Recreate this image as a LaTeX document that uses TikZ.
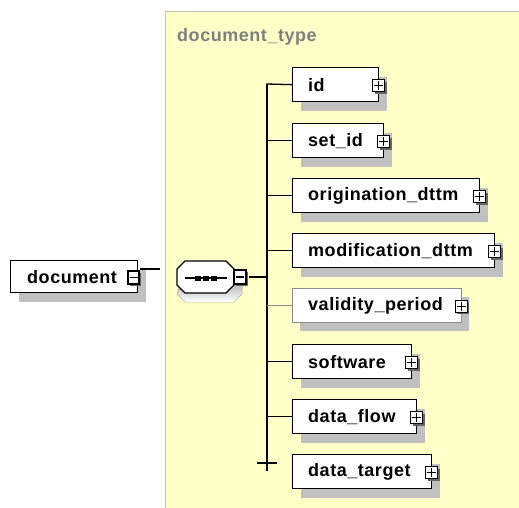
\documentclass[tikz,border=0pt]{standalone}
\usepackage{fontspec}
\setmainfont{Liberation Sans}
\usetikzlibrary{shadows}
\definecolor{panel}{HTML}{FFFFC8}
\definecolor{panelborder}{HTML}{C4C4B0}
\definecolor{shade}{HTML}{C0C0C0}
\definecolor{titlegray}{HTML}{808080}
\begin{document}
\begin{tikzpicture}[x=1pt,y=-1pt,
  box/.style={draw, line width=1.3pt, fill=white, minimum height=34pt, inner sep=0pt,
    anchor=north west, general shadow={fill=shade, shadow xshift=8pt, shadow yshift=-9pt}},
  optbox/.style={box, draw=black!45, line width=0.7pt},
  lbl/.style={anchor=west, inner sep=0pt,
    font=\fontsize{18}{21}\selectfont\bfseries\addfontfeature{LetterSpace=3}},
  icon/.style={draw, line width=1.3pt, fill=white, minimum width=12pt, minimum height=12pt,
    inner sep=0pt, general shadow={fill=black!60, shadow xshift=2pt, shadow yshift=-2pt}},
  sign/.style={line width=1.2pt},
  conn/.style={line width=1.3pt},
  optconn/.style={line width=0.7pt, draw=black!45}
]
\useasboundingbox (0,0) rectangle (519,508);
\clip (0,0) rectangle (519,508);
% panel
\fill[panel] (165,12) rectangle (530,520);
\draw[panelborder, line width=1pt] (530,12) -- (165,12) -- (165,520);
\node[anchor=west, inner sep=0pt, text=titlegray,
  font=\fontsize{18}{21}\selectfont\bfseries\addfontfeature{LetterSpace=3}] (title) at (177,37) {document\_type};

% document element
\node[box, minimum width=127pt, minimum height=32pt] (doc) at (10,260) {};
\node[lbl] (doct) at ([xshift=17pt]doc.west) {document};
\coordinate (docend) at (160,269);
\node[icon, minimum width=11pt, minimum height=13pt] (doci) at (133.5,277.5) {};
\draw[sign] ([xshift=-4pt]doci.center) -- ([xshift=4pt]doci.center);
\draw[conn] (doci.east |- docend) -- (docend);

% sequence compositor
\coordinate (bartop) at (267,84);
\coordinate (barbot) at (267,471);
\coordinate (tick) at (267,463);
\fill[shade] (185,270) -- (234,270) -- (242,278) -- (242,294) -- (234,302) -- (185,302) -- (177,294) -- cycle;
\draw[line width=1.3pt, fill=white] (185,261) -- (226,261) -- (234,269) -- (234,285) -- (226,293)
  -- (185,293) -- (177,285) -- (177,269) -- cycle;
\node[inner sep=0pt, minimum width=57pt, minimum height=32pt] (seq) at (205.5,277) {};
\draw[line width=1.1pt] ([xshift=-21pt,yshift=-1pt]seq.center) -- ([xshift=21pt,yshift=-1pt]seq.center);
\foreach \dx in {-8,0,8}
  \fill ([xshift=\dx pt, yshift=-1pt]seq.center) +(-3,-2.5) rectangle +(3,2.5);
\node[icon, minimum width=12pt, minimum height=14pt] (seqi) at (240,277) {};
\draw[sign] ([xshift=-4pt]seqi.center) -- ([xshift=4pt]seqi.center);
\draw[conn] (seqi.east) ++(2,0) -- (seqi.east -| bartop);

% bar
\draw[conn] (bartop) -- (barbot);
\draw[conn] ([xshift=-10pt]tick) -- ([xshift=10pt]tick);

% children
\foreach \n/\t/\r/\l in {id/67/378/id, setid/123/383/set\_id, orig/178/479/origination\_dttm,
   modif/233/494/modification\_dttm, soft/344/411/software, flow/399/416/data\_flow,
   target/454/431/data\_target}{
  \pgfmathsetmacro{\w}{\r-292}
  \node[box, minimum width=\w pt] (\n) at (292,\t) {};
  \node[lbl] (\n t) at ([xshift=16pt]\n.west) {\l};
  \node[icon] (\n i) at ([xshift=-0.5pt,yshift=-1pt]\n.east) {};
  \draw[sign] ([xshift=-4.5pt]\n i.center) -- ([xshift=4.5pt]\n i.center)
    ([yshift=-4.5pt]\n i.center) -- ([yshift=4.5pt]\n i.center);
}
\node[optbox, minimum width=169pt] (valid) at (292,288) {};
\node[lbl] (validt) at ([xshift=16pt]valid.west) {validity\_period};
\node[icon] (validi) at ([xshift=-0.5pt,yshift=-1pt]valid.east) {};
\draw[sign] ([xshift=-4.5pt]validi.center) -- ([xshift=4.5pt]validi.center)
  ([yshift=-4.5pt]validi.center) -- ([yshift=4.5pt]validi.center);

% branches
\foreach \n in {setid,orig,modif,soft,flow}
  \draw[conn] (\n.west -| bartop) -- (\n.west);
\draw[conn] ([xshift=-0.65pt]bartop) -- (id.west);
\draw[optconn] (valid.west -| bartop) -- (valid.west);
\end{tikzpicture}
\end{document}
